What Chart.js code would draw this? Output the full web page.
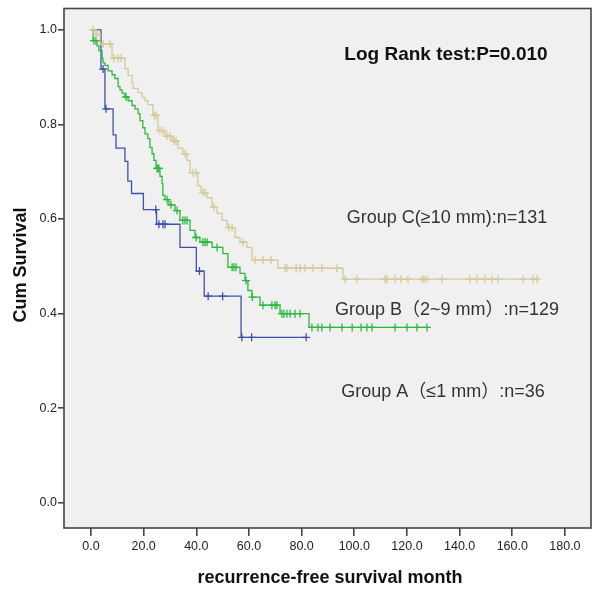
<!DOCTYPE html>
<html>
<head>
	<title>Recurrence-free survival</title>
	<style>
		body { margin: 0; background: #ffffff; }
		#chart { display: block; }
	</style>
</head>
<body>
	<canvas id="chart" width="600" height="590"></canvas>

	<script src="https://cdn.jsdelivr.net/npm/chart.js@4.4.0/dist/chart.umd.min.js"></script>
	<script>
		// ticks
		var xTicks = [0, 20, 40, 60, 80, 100, 120, 140, 160, 180];
		var yTicks = [0, 0.2, 0.4, 0.6, 0.8, 1.0];

		// Group A (<=1 mm): event times and survival after each drop, censor times
		var aTime = [0, 3.8, 5.3, 8.4, 9.5, 12.9, 14.0, 15.4, 19.9, 24.9, 33.8, 40.0, 43.0, 57.0];
		var aSurv = [1.0, 0.917, 0.833, 0.778, 0.75, 0.722, 0.68, 0.654, 0.62, 0.589, 0.54, 0.49, 0.437, 0.35];
		var aCensor = [4.6, 5.7, 24.6, 25.8, 27.3, 28.1, 41.2, 44.5, 50.0, 57.3, 61.0, 81.7];

		// Group B (2~9 mm)
		var bTime = [0, 0.8, 2.3, 3.0, 4.2, 4.6, 5.3, 6.5, 8.0, 9.1, 10.3, 11.0, 11.8, 12.9, 14.1, 15.6, 16.7, 17.9, 18.6, 19.7,
			20.5, 21.6, 22.4, 23.2, 23.9, 24.7, 26.2, 27.0, 27.3, 28.1, 29.6, 31.9, 33.8, 37.6, 39.5, 41.4, 46.0, 50.1, 52.0, 56.6,
			58.5, 59.6, 61.1, 64.2, 71.8, 82.8];
		var bSurv = [1.0, 0.977, 0.966, 0.956, 0.94, 0.93, 0.925, 0.913, 0.905, 0.897, 0.88, 0.873, 0.866, 0.858, 0.85, 0.84, 0.833, 0.823, 0.808, 0.793,
			0.78, 0.77, 0.751, 0.738, 0.724, 0.707, 0.69, 0.675, 0.65, 0.641, 0.63, 0.618, 0.597, 0.576, 0.561, 0.551, 0.54, 0.527, 0.498, 0.485,
			0.47, 0.449, 0.435, 0.418, 0.40, 0.371];
		var bCensor = [1.1, 1.9, 13.3, 25.1, 25.4, 25.8, 28.9, 30.4, 32.7, 34.9, 35.7, 36.5, 39.9, 42.5, 43.3, 44.1, 47.9, 53.6, 54.3, 55.1,
			58.9, 61.3, 65.3, 68.7, 69.9, 70.6, 72.5, 73.3, 74.4, 75.6, 77.5, 79.4, 83.9, 86.2, 87.7, 90.8, 95.3, 99.2, 102.6, 104.8,
			106.7, 115.5, 120.0, 123.8, 127.6];

		// Group C (>=10 mm)
		var cTime = [0, 1.5, 3.4, 8.0, 12.9, 14.1, 15.6, 16.0, 17.9, 19.4, 20.5, 21.6, 23.5, 25.4, 28.1, 30.8, 33.0, 34.9, 36.5, 37.6,
			40.6, 41.8, 44.1, 46.0, 47.9, 49.8, 51.7, 54.7, 56.6, 59.2, 61.1, 71.0, 95.7];
		var cSurv = [1.0, 0.99, 0.97, 0.94, 0.918, 0.903, 0.888, 0.876, 0.867, 0.857, 0.85, 0.842, 0.819, 0.787, 0.775, 0.765, 0.75, 0.738, 0.724, 0.698,
			0.67, 0.656, 0.645, 0.625, 0.612, 0.597, 0.582, 0.561, 0.551, 0.54, 0.513, 0.496, 0.473];
		var cCensor = [0.8, 2.2, 4.6, 7.2, 8.7, 10.3, 11.4, 24.0, 24.7, 26.2, 27.3, 28.9, 30.0, 31.5, 32.3, 35.7, 38.7, 39.9, 42.5, 43.3,
			46.7, 52.4, 53.6, 57.7, 62.3, 65.3, 68.4, 73.7, 74.4, 77.9, 79.4, 81.3, 84.3, 87.7, 93.4, 96.5, 101.0, 111.7, 112.4, 115.5,
			117.7, 120.4, 125.7, 126.5, 127.6, 133.3, 143.9, 146.6, 149.6, 152.3, 154.6, 164.1, 167.9, 169.4];

		var blue = "#3f51a6";
		var green = "#2cb83f";
		var tan = "#d4ca96";

		// survival value at time t (last drop at or before t)
		function survAt(times, survs, t) {
			var s = survs[0];
			for (var i = 0; i < times.length; i++) {
				if (times[i] <= t) s = survs[i];
			}
			return s;
		}

		// step line: one point per drop, plus the end of follow-up
		function curve(times, survs, censor) {
			var pts = [];
			for (var i = 0; i < times.length; i++) pts.push({x: times[i], y: survs[i]});
			var last = censor[censor.length - 1];
			if (last > times[times.length - 1]) pts.push({x: last, y: survs[survs.length - 1]});
			return pts;
		}

		function marks(times, survs, censor) {
			return censor.map(function (t) { return {x: t, y: survAt(times, survs, t)}; });
		}

		function lineSet(data, color) {
			return {type: "line", data: data, borderColor: color, borderWidth: 1.3, stepped: "before",
				pointRadius: 0, fill: false, order: 2};
		}

		function censorSet(data, color) {
			return {type: "scatter", data: data, borderColor: color, backgroundColor: color, pointStyle: "cross",
				pointRadius: 4, borderWidth: 1.3, order: 1};
		}

		// grey plot area, frame and the texts on it
		var decor = {
			id: "decor",
			beforeDraw: function (chart) {
				var ctx = chart.ctx, a = chart.chartArea;
				ctx.save();
				ctx.fillStyle = "#ffffff";
				ctx.fillRect(0, 0, chart.width, chart.height);
				ctx.fillStyle = "#f0f0f0";
				ctx.fillRect(a.left, a.top, a.right - a.left, a.bottom - a.top);
				ctx.restore();
			},
			afterDraw: function (chart) {
				var ctx = chart.ctx, a = chart.chartArea;
				ctx.save();
				ctx.strokeStyle = "#454545";
				ctx.lineWidth = 1.6;
				ctx.strokeRect(a.left, a.top, a.right - a.left, a.bottom - a.top);

				ctx.fillStyle = "#111111";
				ctx.textBaseline = "middle";
				ctx.textAlign = "center";
				ctx.font = "bold 19px 'Liberation Sans', Arial, sans-serif";
				ctx.fillText("Log Rank test:P=0.010", 446, 55);

				ctx.font = "bold 18px 'Liberation Sans', Arial, sans-serif";
				ctx.fillText("recurrence-free survival month", 330, 578);
				ctx.save();
				ctx.translate(21, 265);
				ctx.rotate(-Math.PI / 2);
				ctx.fillText("Cum Survival", 0, 0);
				ctx.restore();

				ctx.fillStyle = "#333333";
				ctx.font = "18px 'Liberation Sans', 'Noto Sans CJK SC', sans-serif";
				ctx.fillText("Group C(\u226510 mm):n=131", 447, 218);
				ctx.fillText("Group B\uff082~9 mm\uff09:n=129", 447, 310);
				ctx.fillText("Group A\uff08\u22641 mm\uff09:n=36", 443, 392);
				ctx.restore();
			}
		};

		var tickFont = {family: "'Liberation Sans', Arial, sans-serif", size: 12.5};

		new Chart(document.getElementById("chart").getContext("2d"), {
			data: {
				datasets: [
					lineSet(curve(cTime, cSurv, cCensor), tan),
					lineSet(curve(bTime, bSurv, bCensor), green),
					lineSet(curve(aTime, aSurv, aCensor), blue),
					censorSet(marks(cTime, cSurv, cCensor), tan),
					censorSet(marks(bTime, bSurv, bCensor), green),
					censorSet(marks(aTime, aSurv, aCensor), blue)
				]
			},
			options: {
				responsive: false,
				animation: false,
				layout: {padding: {top: 7, right: 9, left: 0, bottom: 0}},
				plugins: {legend: {display: false}, tooltip: {enabled: false}},
				scales: {
					x: {
						type: "linear", min: -10.25, max: 189.9,
						afterBuildTicks: function (s) { s.ticks = xTicks.map(function (v) { return {value: v}; }); },
						afterFit: function (s) { s.height = 62; },
						grid: {drawOnChartArea: false, drawTicks: true, tickLength: 8, color: "#454545", lineWidth: 1.6},
						border: {display: false},
						ticks: {font: tickFont, color: "#222222", padding: 3, maxRotation: 0,
							callback: function (v) { return Number(v).toFixed(1); }}
					},
					y: {
						type: "linear", min: -0.053, max: 1.045,
						afterBuildTicks: function (s) { s.ticks = yTicks.map(function (v) { return {value: v}; }); },
						afterFit: function (s) { s.width = 64; },
						grid: {drawOnChartArea: false, drawTicks: true, tickLength: 6, color: "#454545", lineWidth: 1.6},
						border: {display: false},
						ticks: {font: tickFont, color: "#222222", padding: 1,
							callback: function (v) { return Number(v).toFixed(1); }}
					}
				}
			},
			plugins: [decor]
		});
	</script>
</body>
</html>
